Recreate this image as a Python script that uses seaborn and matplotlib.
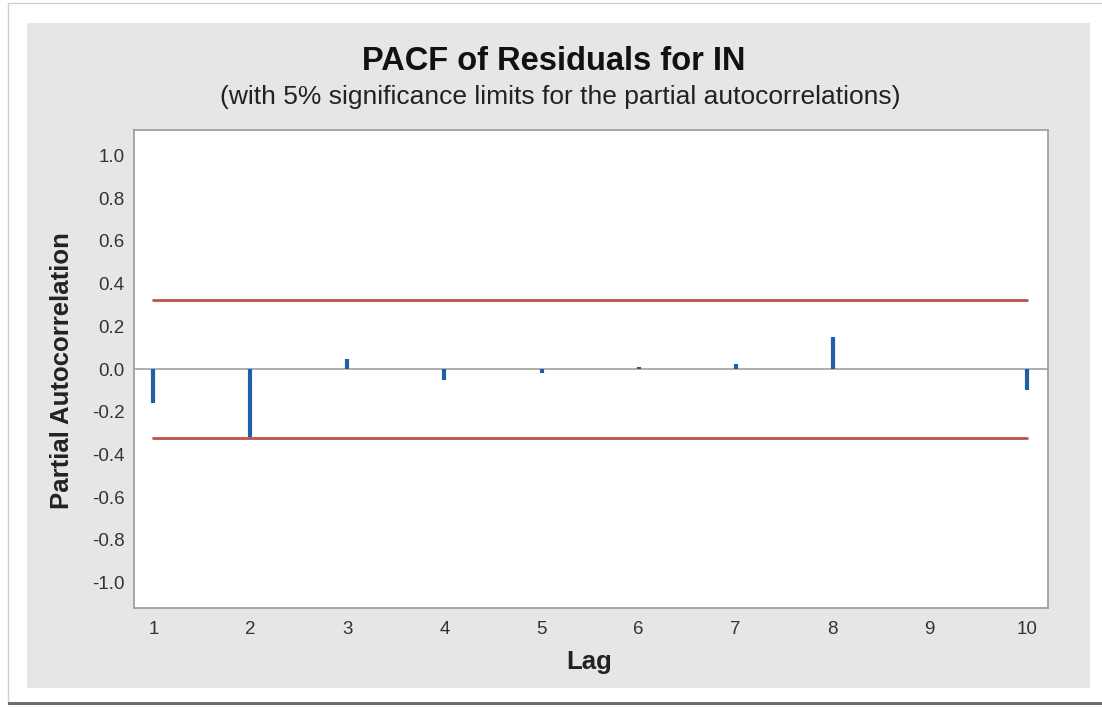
import matplotlib.pyplot as plt
import numpy as np
import pandas as pd
import seaborn as sns
from matplotlib.patches import Rectangle

lags = [1, 2, 3, 4, 5, 6, 7, 8, 9, 10]
pacf_values = [-0.16, -0.32, 0.045, -0.05, -0.02, 0.01, 0.025, 0.15, 0.0, -0.10]
sig_limit = 0.323
y_ticks = [1.0, 0.8, 0.6, 0.4, 0.2, 0.0, -0.2, -0.4, -0.6, -0.8, -1.0]

df = pd.DataFrame({"Lag": lags, "PACF": pacf_values})
limits = pd.DataFrame(
    {
        "Lag": [lags[0], lags[-1], lags[0], lags[-1]],
        "Limit": [sig_limit, sig_limit, -sig_limit, -sig_limit],
        "side": ["upper", "upper", "lower", "lower"],
    }
)

sns.set_theme(style="white")
plt.rcParams["font.family"] = ["Liberation Sans", "DejaVu Sans"]

W, H = 1102, 707
fig = plt.figure(figsize=(W / 100, H / 100), dpi=100)
fig.patch.set_facecolor("white")

# outer frame and grey panel (pixel coords -> figure fraction)
fig.add_artist(
    Rectangle((8 / W, 1 - 703 / H), 1.2, (703 - 3) / H, transform=fig.transFigure,
              facecolor="white", edgecolor="#cfcfcf", lw=1.0, zorder=0)
)
fig.add_artist(
    Rectangle((8 / W, 1 - 705 / H), 1.2, 3 / H, transform=fig.transFigure,
              facecolor="#6e6e6e", edgecolor="none", zorder=0)
)
fig.add_artist(
    Rectangle((27 / W, 1 - 688 / H), (1090 - 27) / W, (688 - 23) / H,
              transform=fig.transFigure, facecolor="#e6e6e6", edgecolor="none", zorder=0)
)

ax = fig.add_axes([134 / W, 1 - 608 / H, (1048 - 134) / W, (608 - 130) / H])
ax.set_facecolor("white")

ax.axhline(0, color="#a8a8a8", lw=1.3, zorder=1)
sns.lineplot(data=limits, x="Lag", y="Limit", units="side", estimator=None,
             color="#c0504d", lw=2, ax=ax, zorder=2)
ax.vlines(df["Lag"], 0, df["PACF"], color="#1f5fa8", lw=3, zorder=3)

ax.set_xlim(0.80, 10.22)
ax.set_ylim(-1.12, 1.12)
ax.set_xticks(lags)
ax.set_yticks(y_ticks)
ax.set_xticklabels([str(l) for l in lags])
ax.set_yticklabels([f"{t:.1f}" for t in y_ticks])
ax.tick_params(axis="both", direction="out", length=4, width=1, color="#a0a0a0",
               labelsize=13.5, labelcolor="#333333")
ax.tick_params(axis="x", pad=5)
ax.tick_params(axis="y", pad=3)
for sp in ax.spines.values():
    sp.set_color("#a0a0a0")
    sp.set_linewidth(1.3)

ax.set_xlabel("")
ax.set_ylabel("")
fig.text(589 / W, 1 - 662 / H, "Lag", ha="center", va="center",
         fontsize=18.5, fontweight="bold", color="#222222")
fig.text(62 / W, 1 - 371 / H, "Partial Autocorrelation", ha="center", va="center",
         rotation=90, fontsize=18.5, fontweight="bold", color="#222222")
fig.text(554 / W, 1 - 61 / H, "PACF of Residuals for IN", ha="center", va="center",
         fontsize=23.5, fontweight="bold", color="#111111")
fig.text(560 / W, 1 - 97 / H,
         "(with 5% significance limits for the partial autocorrelations)",
         ha="center", va="center", fontsize=19, color="#222222")

fig.savefig("out.png", dpi=100)
